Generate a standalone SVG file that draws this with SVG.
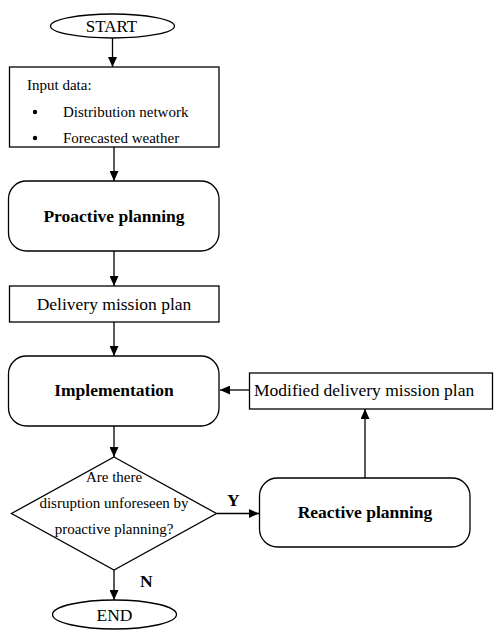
<svg xmlns="http://www.w3.org/2000/svg" width="500" height="640" viewBox="0 0 500 640">
<style>
.s{fill:#fff;stroke:#000;stroke-width:1.3}
.t{font-family:"Liberation Serif","Times New Roman",serif;font-size:17.5px;fill:#000}
.sm{font-size:15px}
.st{font-size:17px}
.b{font-weight:bold}
.c{text-anchor:middle}
.e{stroke:#000;stroke-width:1.3;fill:none;marker-end:url(#ah)}
</style>
<defs>
<marker id="ah" markerUnits="userSpaceOnUse" markerWidth="10" markerHeight="9" refX="10" refY="4.5" orient="auto">
<path d="M0,0 L10,4.5 L0,9 z" fill="#000"/>
</marker>
</defs>
<rect width="500" height="640" fill="#fff"/>
<g id="connectors">
<line class="e" x1="112.5" y1="38" x2="112.5" y2="67"/>
<line class="e" x1="114" y1="147" x2="114" y2="181"/>
<line class="e" x1="114" y1="251" x2="114" y2="286"/>
<line class="e" x1="114" y1="322" x2="114" y2="356"/>
<line class="e" x1="249" y1="390" x2="220" y2="390"/>
<line class="e" x1="114" y1="426" x2="114" y2="457"/>
<line class="e" x1="217" y1="513.5" x2="259" y2="513.5"/>
<line class="e" x1="365" y1="478" x2="365" y2="409"/>
<line class="e" x1="114" y1="570" x2="114" y2="600"/>
<text class="t b" x="227" y="506">Y</text>
<text class="t b" x="140" y="587">N</text>
</g>
<g id="start">
<ellipse class="s" cx="112.5" cy="26" rx="62" ry="12"/>
<text class="t st c" x="111.5" y="32">START</text>
</g>
<g id="input">
<rect class="s" x="9.5" y="67" width="209.5" height="80"/>
<text class="t sm" x="27" y="90">Input data:</text>
<circle cx="35" cy="112" r="2.2" fill="#000"/>
<circle cx="35" cy="138" r="2.2" fill="#000"/>
<text class="t sm" x="63" y="117">Distribution network</text>
<text class="t sm" x="63" y="143">Forecasted weather</text>
</g>
<g id="proactive">
<rect class="s" x="8.5" y="181" width="210.5" height="70" rx="18"/>
<text class="t b c" x="114" y="221.5">Proactive planning</text>
</g>
<g id="plan">
<rect class="s" x="9.5" y="286" width="209.5" height="36"/>
<text class="t c" x="114" y="310">Delivery mission plan</text>
</g>
<g id="implementation">
<rect class="s" x="8.5" y="356" width="210.5" height="70" rx="18"/>
<text class="t b c" x="114" y="396">Implementation</text>
</g>
<g id="modified">
<rect class="s" x="249.5" y="373" width="243" height="36"/>
<text class="t" x="254" y="396">Modified delivery mission plan</text>
</g>
<g id="decision">
<polygon class="s" points="114,457 216.5,513.5 114,570 11.5,513.5"/>
<text class="t sm c" x="114" y="482">Are there</text>
<text class="t sm c" x="114" y="508">disruption unforeseen by</text>
<text class="t sm c" x="114" y="534">proactive planning?</text>
</g>
<g id="reactive">
<rect class="s" x="259.5" y="478" width="210.5" height="69" rx="18"/>
<text class="t b c" x="365" y="518">Reactive planning</text>
</g>
<g id="end">
<ellipse class="s" cx="114.5" cy="614.5" rx="62" ry="14.5"/>
<text class="t c" x="114.5" y="621">END</text>
</g>
</svg>
